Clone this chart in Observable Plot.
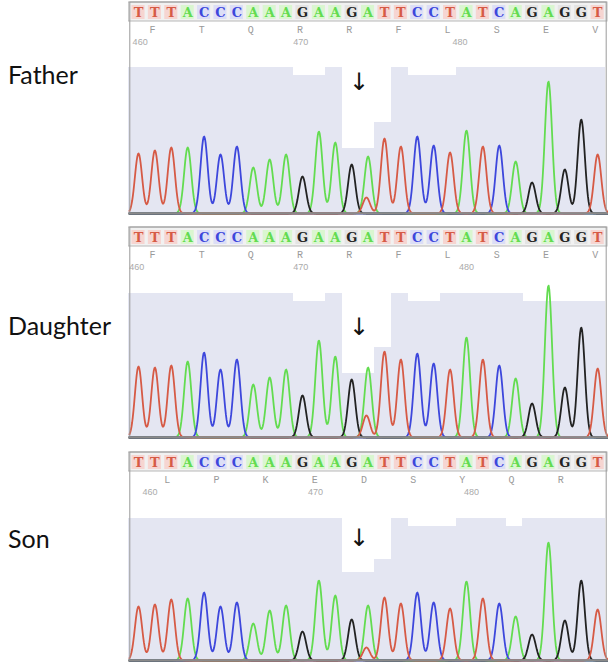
<!DOCTYPE html>
<html><head><meta charset="utf-8">
<script src="https://cdn.jsdelivr.net/npm/d3@7"></script>
<script src="https://cdn.jsdelivr.net/npm/@observablehq/plot@0.6"></script>
<style>
body{margin:0;background:#fff;width:608px;height:665px;position:relative;overflow:hidden;font-family:Lato,sans-serif}
.lbl{position:absolute;left:8px;font-size:25px;line-height:25px;color:#111;white-space:nowrap}
.panel{position:absolute;left:128px}
</style></head><body>
<script>
// ---- data ----
const sequence = ["T","T","T","A","C","C","C","A","A","A","G","A","A","G","A","T","T","C","C","T","A","T","C","A","G","A","G","G","T"];
const panelNames = ["Father","Daughter","Son"];

const fatherPeaks   = [60,63,66,66,77,59,67,46,54,59,37,82,71,49,57,75,67,77,68,61,83,67,68,52,31,132,44,94,59];
const daughterPeaks = [71,70,72,76,85,68,78,53,60,68,42,97,81,58,70,86,78,84,74,68,100,78,72,59,34,152,50,110,69];
const sonPeaks      = [54,56,61,62,68,54,58,37,50,55,29,80,65,41,55,63,57,68,58,52,79,62,57,44,26,118,40,80,51];

const fatherSecondary   = [{base:"T", i:13.9, h:16}];
const daughterSecondary = [{base:"T", i:13.9, h:22}];
const sonSecondary      = [{base:"T", i:13.9, h:13}];

const fatherQuality   = [146,146,146,146,146,146,146,146,146,146,138,138,146,65,65,91,146,138,138,138,146,146,146,146,146,146,146,146,146];
const daughterQuality = [144,144,144,144,144,144,144,144,144,144,136,136,144,64,64,90,144,136,136,144,144,144,144,144,136,136,136,136,136];
const sonQuality      = [142,142,142,142,142,142,142,142,142,142,142,142,142,88,88,101,142,134,134,134,142,142,142,134,142,142,142,142,142];

const fatherAA = ["F","T","Q","R","R","F","L","S","E","V"];
const daughterAA = ["F","T","Q","R","R","F","L","S","E","V"];
const sonAA = ["L","P","K","E","D","S","Y","Q","R"];
const fatherAAStart = 0.85, daughterAAStart = 0.85, sonAAStart = 1.75;

const fatherNums   = [{i:0.1, label:"460"},{i:9.9, label:"470"},{i:19.6, label:"480"}];
const daughterNums = [{i:-0.1, label:"460"},{i:9.9, label:"470"},{i:20.0, label:"480"}];
const sonNums      = [{i:0.7, label:"460"},{i:10.8, label:"470"},{i:20.3, label:"480"}];

// ---- styles / layout ----
const baseColor = {A:"#63dc50", C:"#3d47dc", G:"#222222", T:"#d65a45"};
const baseBg = {A:"#daf6d0", C:"#dcdef6", G:"#e4e4e4", T:"#f6d5d1"};

const panels = [
  {name:panelNames[0], peaks:fatherPeaks, sec:fatherSecondary, qual:fatherQuality, aa:fatherAA, aaStart:fatherAAStart, nums:fatherNums, top:0, base:213, labelTop:62, arrowY:131},
  {name:panelNames[1], peaks:daughterPeaks, sec:daughterSecondary, qual:daughterQuality, aa:daughterAA, aaStart:daughterAAStart, nums:daughterNums, top:225, base:212, labelTop:313, arrowY:110},
  {name:panelNames[2], peaks:sonPeaks, sec:sonSecondary, qual:sonQuality, aa:sonAA, aaStart:sonAAStart, nums:sonNums, top:450, base:210, labelTop:526, arrowY:122}
];

// peak shape rendering of each base's read peaks
function traceFor(b, peaks, sec){
  const s = 0.22, pts = [];
  for (let k = 0; k <= 730; k++) {
    const x = -0.55 + k*0.04;
    let v = 0;
    sequence.forEach((s0, i) => { if (s0 === b) v += peaks[i]*Math.exp(-((x-i)**2)/(2*s*s)); });
    sec.forEach(e => { if (e.base === b) v += e.h*Math.exp(-((x-e.i)**2)/(2*s*s)); });
    pts.push({x, v});
  }
  return pts;
}

for (const p of panels) {
  const lbl = document.createElement("div");
  lbl.className = "lbl"; lbl.style.top = p.labelTop + "px"; lbl.textContent = p.name;
  document.body.appendChild(lbl);

  const seq = sequence.map((b,i)=>({b,i}));
  const qual = p.qual.map((q,i)=>({i,q}));
  const aa = p.aa.map((a,k)=>({a, i:p.aaStart + 3*k}));
  const H = 216, B = p.base;

  const chart = Plot.plot({
    width: 480, height: H,
    marginTop: 0, marginLeft: 0, marginRight: 0, marginBottom: H - B,
    x: {domain: [-0.5, 28.6], range: [1.8, 479], axis: null},
    y: {domain: [0, B], range: [B, 0], axis: null},
    style: {background: "transparent", overflow: "hidden"},
    marks: [
      Plot.rect(qual, {x1: d=>d.i-0.6, x2: d=>d.i+0.45, y1: 0, y2: "q", fill: "#e4e6f2", shapeRendering: "crispEdges"}),
      Plot.rect([0], {x1: -0.6, x2: 28.6, y1: B-21, y2: B-2, fill: "#f1f1f1", stroke: "#b8b8b8"}),
      Plot.rect(seq, {x1: d=>d.i-0.4, x2: d=>d.i+0.4, y1: B-19, y2: B-5, fill: d=>baseBg[d.b]}),
      Plot.text(seq, {x: "i", y: B-12, text: "b", fill: d=>baseColor[d.b], fontSize: 13, fontWeight: "bold", fontFamily: "DejaVu Serif"}),
      Plot.text(aa, {x: "i", y: B-29, text: "a", fill: "#9a9a9a", fontSize: 10, fontFamily: "Liberation Mono"}),
      Plot.text(p.nums, {x: "i", y: B-42, text: "label", fill: "#aaaaaa", fontSize: 9, fontFamily: "Liberation Sans"}),
      ...["A","C","G","T"].map(b => Plot.line(traceFor(b, p.peaks, p.sec), {x: "x", y: "v", stroke: baseColor[b], strokeWidth: 1.8})),
      Plot.text(["↓"], {x: 13.45, y: p.arrowY, text: d=>d, fontSize: 24, fill: "#111", fontFamily: "DejaVu Sans"}),
      Plot.rect([0], {x1: -0.5, x2: 28.55, y1: 0, y2: B-2, fill: "none", stroke: "#9a9a9a"}),
      Plot.ruleY([0], {stroke: "#8a8a8a", strokeWidth: 2})
    ]
  });
  const wrap = document.createElement("div");
  wrap.className = "panel"; wrap.style.top = p.top + "px";
  wrap.appendChild(chart);
  document.body.appendChild(wrap);
}
</script>
</body></html>
